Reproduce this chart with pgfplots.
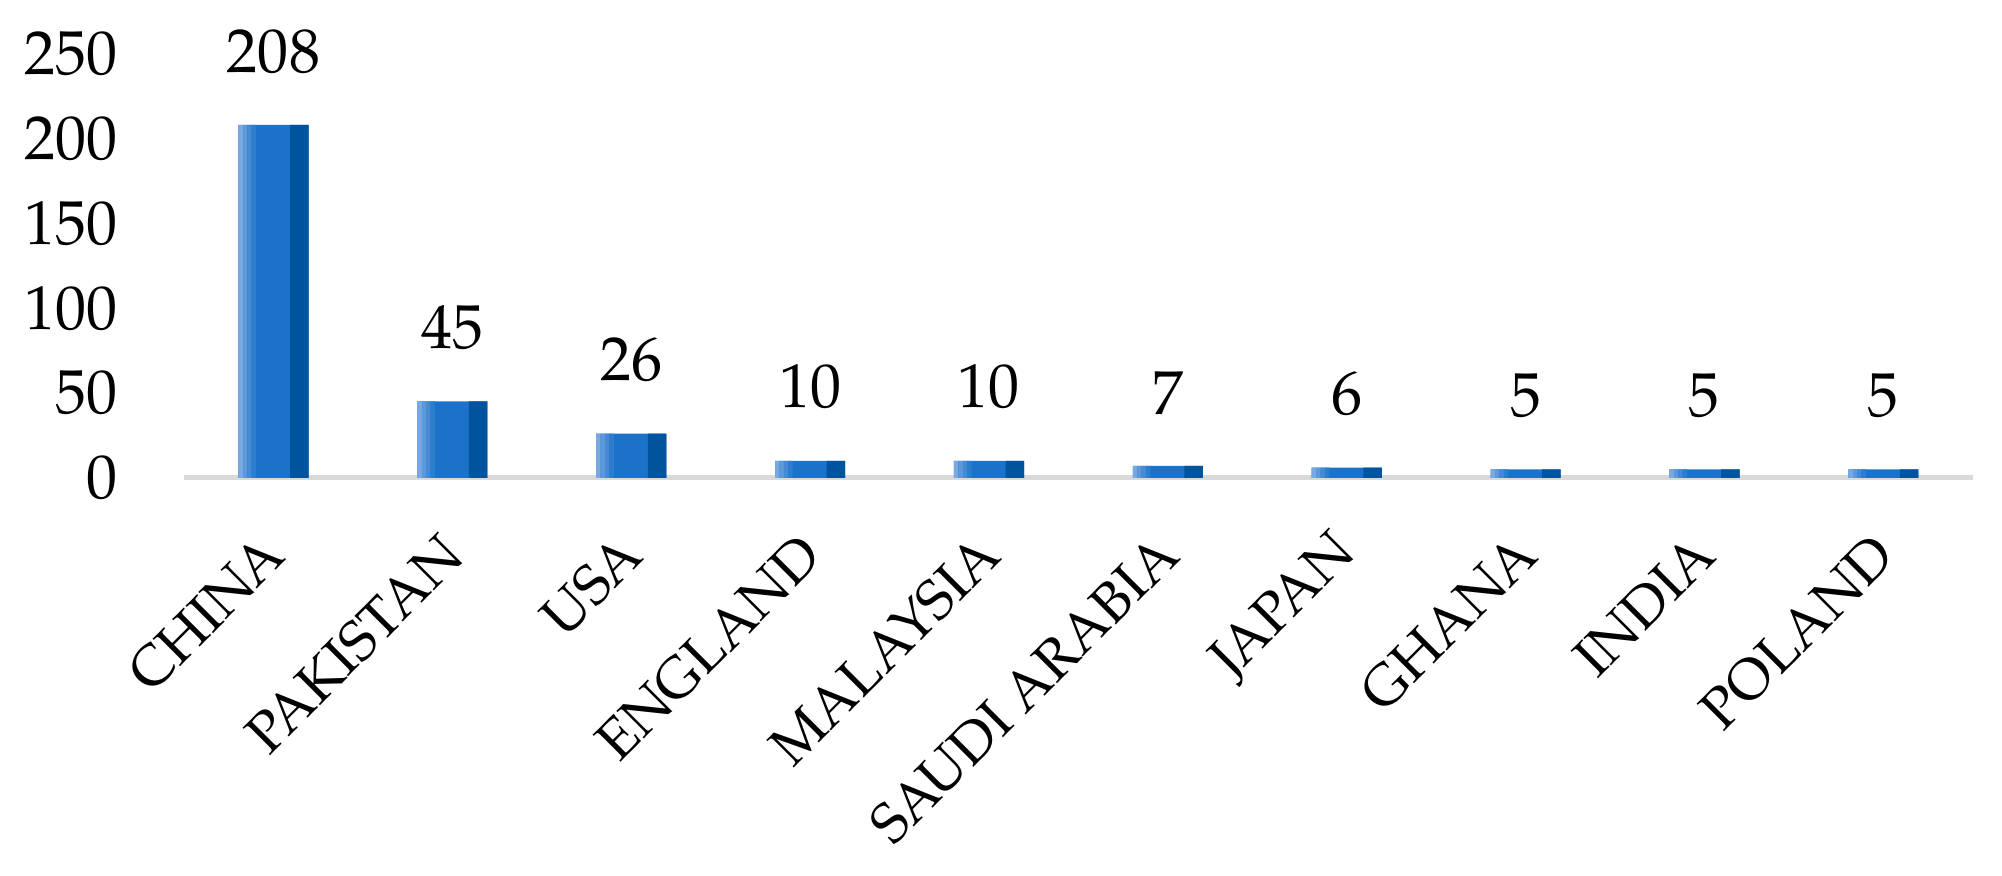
\documentclass[border=0pt]{standalone}
\usepackage{pgfplots}
\pgfplotsset{compat=1.18}
\usepackage{pgfplotstable}
\usepackage{fontspec}
\setmainfont{TeX Gyre Pagella}
\definecolor{barmain}{RGB}{27,114,200}
\definecolor{bardark}{RGB}{0,84,158}
\definecolor{barlight}{RGB}{122,168,224}
\pgfplotstableread{
x y
0 208
1 45
2 26
3 10
4 10
5 7
6 6
7 5
8 5
9 5
}\datatable
\begin{document}
\begin{tikzpicture}
\begin{axis}[
  scale only axis,
  width=447pt, height=106pt,
  xmin=-0.5, xmax=9.5, ymin=0, ymax=250,
  ybar,
  xtick={0,...,9},
  xticklabels={CHINA,PAKISTAN,USA,ENGLAND,MALAYSIA,SAUDI ARABIA,JAPAN,GHANA,INDIA,POLAND},
  ytick={0,50,100,150,200,250},
  major tick length=0pt,
  axis x line*=bottom, axis y line*=left,
  x axis line style={draw=black!15, line width=1.2pt, -},
  y axis line style={draw=none},
  /pgf/number format/assume math mode=true,
  yticklabel style={font=\fontsize{15.5}{18}\selectfont, anchor=east, xshift=-13pt},
  xticklabel style={font=\fontsize{14}{16}\selectfont, rotate=45, anchor=east, yshift=-12pt, xshift=-8.25pt},
  every node near coord/.append style={font=\fontsize{15.5}{18}\selectfont, inner sep=0pt, anchor=south, yshift=12.7pt, text=black},
  clip=false,
]
\addplot[draw=none, fill=barmain, bar width=17.5pt, bar shift=0pt, nodes near coords] table[x=x,y=y] {\datatable};
\addplot[draw=none, fill=bardark, bar width=4.6pt, bar shift=6.45pt] table[x=x,y=y] {\datatable};
\addplot[draw=none, fill=barlight, bar width=1.1pt, bar shift=-8.2pt] table[x=x,y=y] {\datatable};
\addplot[draw=none, fill=barlight!70!barmain, bar width=1.1pt, bar shift=-7.1pt] table[x=x,y=y] {\datatable};
\addplot[draw=none, fill=barlight!45!barmain, bar width=1.1pt, bar shift=-6.0pt] table[x=x,y=y] {\datatable};
\addplot[draw=none, fill=barlight!20!barmain, bar width=1.1pt, bar shift=-4.9pt] table[x=x,y=y] {\datatable};
\end{axis}
\pgfresetboundingbox
\path (current axis.south west) ++(-46pt,-99.5pt) coordinate (bl);
\path (current axis.north east) ++(7.3pt,13.4pt) coordinate (tr);
\useasboundingbox (bl) rectangle (tr);
\end{tikzpicture}
\end{document}
